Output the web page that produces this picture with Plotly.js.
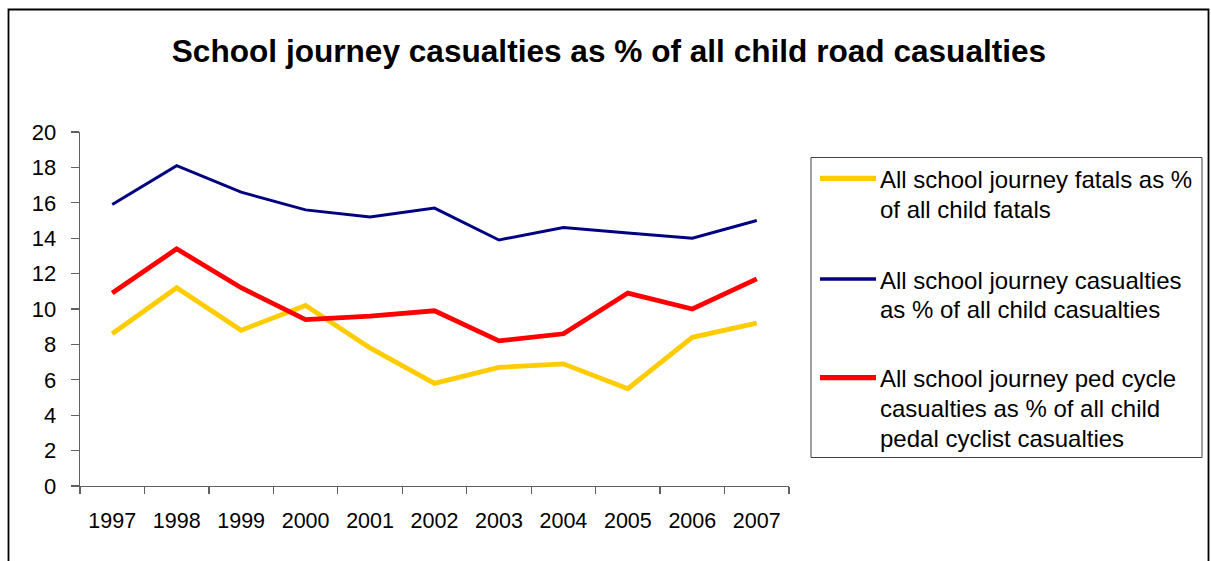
<!DOCTYPE html>
<html>
<head>
<meta charset="utf-8">
<script src="https://cdn.plot.ly/plotly-3.0.1.min.js"></script>
<style>html,body{margin:0;padding:0;background:#fff;}#chart{width:1211px;height:561px;}</style>
</head>
<body>
<div id="chart"></div>
<script>
// ---- data ----
var years = ["1997","1998","1999","2000","2001","2002","2003","2004","2005","2006","2007"];
var fatalsPct = [8.6, 11.2, 8.8, 10.2, 7.8, 5.8, 6.7, 6.9, 5.5, 8.4, 9.2];
var casualtiesPct = [15.9, 18.1, 16.6, 15.6, 15.2, 15.7, 13.9, 14.6, 14.3, 14.0, 15.0];
var pedCyclePct = [10.9, 13.4, 11.2, 9.4, 9.6, 9.9, 8.2, 8.6, 10.9, 10.0, 11.7];
var seriesNames = [
  ["All school journey fatals as %", "of all child fatals"],
  ["All school journey casualties", "as % of all child casualties"],
  ["All school journey ped cycle", "casualties as % of all child", "pedal cyclist casualties"]
];
var yTicks = [0, 2, 4, 6, 8, 10, 12, 14, 16, 18, 20];
var chartTitle = "School journey casualties as % of all child road casualties";

// ---- layout geometry ----
var W = 1211, H = 561;
var M = {l: 80, r: 422, t: 132, b: 75};
var PW = W - M.l - M.r, PH = H - M.t - M.b;
function px(x) { return (x - M.l) / PW; }
function py(y) { return (H - M.b - y) / PH; }

var FONT = '"Liberation Sans", Arial, sans-serif';
var colors = ["#FFCC00", "#000080", "#FF0000"];
var widths = [4.8, 3, 4.8];
var values = [fatalsPct, casualtiesPct, pedCyclePct];

var traces = values.map(function (v, i) {
  return {
    x: years, y: v, type: "scatter", mode: "lines",
    name: seriesNames[i].join(" "),
    line: {color: colors[i], width: widths[i]},
    showlegend: false, hoverinfo: "x+y"
  };
});

var shapes = [
  // outer border
  {type: "rect", xref: "paper", yref: "paper", x0: px(8.5), x1: px(1208.5), y0: py(600), y1: py(9.5),
   line: {color: "#000", width: 1.8}, fillcolor: "rgba(0,0,0,0)", layer: "below"},
  // legend box
  {type: "rect", xref: "paper", yref: "paper", x0: px(811), x1: px(1202), y0: py(457.5), y1: py(157.5),
   line: {color: "#404040", width: 1}, fillcolor: "rgba(0,0,0,0)"}
];
var annotations = [];
var entryTop = [178.3, 279, 377.7];
var lineGap = 29.8;
for (var i = 0; i < 3; i++) {
  shapes.push({type: "line", xref: "paper", yref: "paper", x0: px(820), x1: px(876),
    y0: py(entryTop[i]), y1: py(entryTop[i]), line: {color: colors[i], width: widths[i] + 0.5}});
  for (var j = 0; j < seriesNames[i].length; j++) {
    annotations.push({xref: "paper", yref: "paper", x: px(878), y: py(entryTop[i] + j * lineGap + 1),
      xanchor: "left", yanchor: "middle", showarrow: false, text: seriesNames[i][j],
      font: {family: FONT, size: 24, color: "#000"}});
  }
}

var layout = {
  width: W, height: H,
  margin: M,
  paper_bgcolor: "#fff", plot_bgcolor: "#fff",
  font: {family: FONT, color: "#000"},
  title: {text: "<b>" + chartTitle + "</b>", xref: "container", x: 609 / W, xanchor: "center",
          yref: "container", y: 1 - 50.5 / H, yanchor: "middle",
          font: {family: FONT, size: 31.6, color: "#000"}},
  xaxis: {
    type: "category", range: [-0.5, 10.5], tickson: "boundaries",
    showgrid: false, zeroline: false, showline: true, linecolor: "#606060", linewidth: 1.3,
    ticks: "outside", ticklen: 7, tickcolor: "#606060", tickwidth: 1.3,
    tickfont: {family: FONT, size: 21.5, color: "#000"}, ticklabelstandoff: 15,
    fixedrange: true
  },
  yaxis: {
    range: [0, 20], tickvals: yTicks, ticktext: yTicks.map(String),
    showgrid: false, zeroline: false, showline: true, linecolor: "#606060", linewidth: 1.3,
    ticks: "outside", ticklen: 8, tickcolor: "#606060", tickwidth: 1.3,
    tickfont: {family: FONT, size: 22, color: "#000"}, ticklabelstandoff: 10,
    fixedrange: true
  },
  shapes: shapes,
  annotations: annotations,
  showlegend: false
};

Plotly.newPlot("chart", traces, layout, {displayModeBar: false, staticPlot: true});
</script>
</body>
</html>
